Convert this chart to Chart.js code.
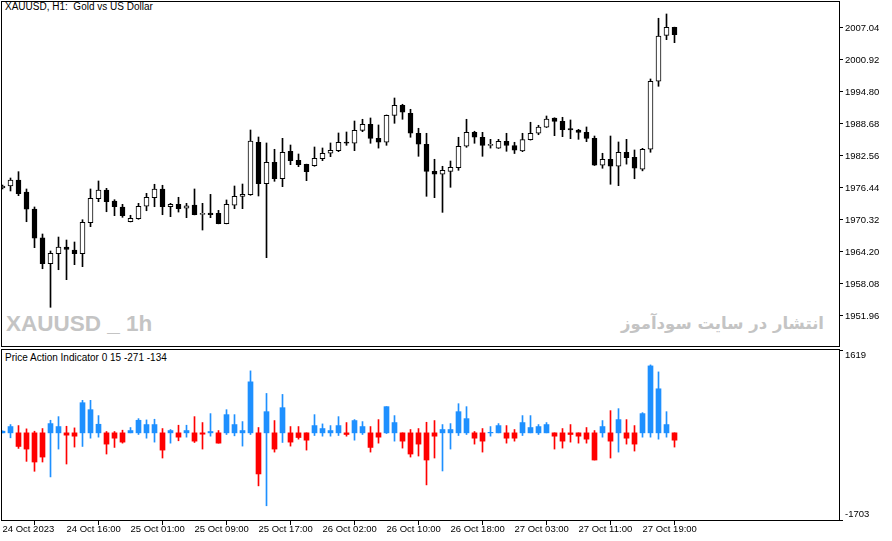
<!DOCTYPE html>
<html>
<head>
<meta charset="utf-8">
<title>XAUUSD H1</title>
<script src="https://cdn.jsdelivr.net/npm/chart.js@4.4.0/dist/chart.umd.min.js"></script>
<style>
  html, body { margin: 0; padding: 0; background: #fff; }
  #wrap { position: relative; width: 892px; height: 541px; overflow: hidden; }
  canvas { position: absolute; left: 0; z-index: 1; }
  .lbl { position: absolute; z-index: 0; white-space: nowrap; font-family: 'Liberation Sans', Arial, sans-serif; font-size: 10px; line-height: 12px; color: #000; }
  .mark { position: absolute; z-index: 0; white-space: nowrap; color: #c4c4c4; font-weight: bold; }
</style>
</head>
<body>
<div id="wrap">
  <div class="lbl" style="left:5px;top:1px">XAUUSD, H1:&nbsp; Gold vs US Dollar</div>
  <div class="mark" style="left:6px;top:310px;font-family:'Liberation Sans',Arial,sans-serif;font-size:22.5px;line-height:28px">XAUUSD _ 1h</div>
  <div class="mark" dir="rtl" style="left:560px;width:264px;top:310px;text-align:right;font-family:'DejaVu Sans',sans-serif;font-size:16.5px;line-height:28px">انتشار در سایت سودآموز</div>
  <div class="lbl" style="left:5px;top:352px">Price Action Indicator 0 15 -271 -134</div>
  <canvas id="main" width="892" height="348" style="top:0"></canvas>
  <canvas id="ind" width="892" height="193" style="top:348px"></canvas>
</div>
<script>
// #### Data (H1 bars, 24 Oct 08:00 -> 27 Oct 23:00)
const open = [
  1976.44, 1976.82, 1977.97, 1975.68, 1972.42, 1966.93, 1961.96, 1963.87, 1965.15, 1964.58,
  1963.87, 1969.80, 1974.39, 1976.06, 1973.95, 1972.81, 1969.99, 1970.57, 1972.94, 1974.59,
  1976.25, 1972.86, 1973.32, 1972.56, 1973.19, 1971.40, 1971.66, 1971.60, 1969.61, 1973.13,
  1974.85, 1975.16, 1985.18, 1977.26, 1981.35, 1978.22, 1983.46, 1981.74, 1980.96, 1980.71,
  1982.05, 1983.08, 1983.58, 1985.24, 1984.99, 1987.47, 1988.62, 1985.94, 1985.18, 1990.34,
  1992.26, 1990.73, 1986.90, 1984.80, 1979.63, 1979.06, 1979.63, 1980.32, 1984.42, 1987.09,
  1986.14, 1984.60, 1984.07, 1985.37, 1984.53, 1983.52, 1985.68, 1986.90, 1988.05, 1989.83,
  1989.19, 1987.78, 1987.53, 1987.09, 1985.94, 1980.78, 1981.93, 1980.59, 1983.27, 1982.31,
  1980.02, 1983.84, 1996.85, 2005.64, 2007.17
];
const high = [
  1977.01, 1978.35, 1979.56, 1976.25, 1972.81, 1967.64, 1964.39, 1967.06, 1966.49, 1966.11,
  1970.37, 1976.25, 1977.78, 1976.38, 1974.20, 1973.32, 1971.22, 1973.51, 1975.42, 1977.15,
  1976.96, 1973.51, 1974.66, 1973.51, 1976.25, 1973.51, 1975.22, 1972.16, 1974.15, 1976.82,
  1977.20, 1987.53, 1986.19, 1985.05, 1983.84, 1985.94, 1984.66, 1982.94, 1981.00, 1984.28,
  1984.09, 1985.05, 1986.96, 1987.15, 1989.25, 1989.58, 1989.83, 1988.49, 1990.40, 1993.65,
  1992.45, 1991.49, 1987.86, 1986.90, 1981.93, 1980.59, 1981.60, 1986.14, 1989.58, 1987.29,
  1987.09, 1985.75, 1985.75, 1986.90, 1985.18, 1986.90, 1989.01, 1988.43, 1990.21, 1989.87,
  1989.96, 1989.45, 1987.66, 1988.11, 1986.38, 1983.08, 1986.38, 1985.24, 1985.75, 1983.71,
  1984.03, 1997.29, 2008.90, 2009.72, 2007.20
];
const low = [
  1976.25, 1975.87, 1974.97, 1969.99, 1965.02, 1961.00, 1953.62, 1960.81, 1958.90, 1961.77,
  1961.39, 1969.04, 1973.82, 1971.90, 1971.14, 1970.83, 1969.95, 1970.45, 1972.09, 1972.86,
  1971.33, 1970.95, 1971.84, 1970.76, 1971.30, 1968.40, 1970.76, 1969.58, 1969.58, 1972.48,
  1972.48, 1975.04, 1974.91, 1963.11, 1977.72, 1976.69, 1980.90, 1980.52, 1977.84, 1980.59,
  1981.66, 1982.43, 1983.39, 1984.60, 1983.58, 1987.21, 1984.99, 1984.07, 1984.60, 1988.81,
  1989.58, 1986.14, 1982.50, 1974.85, 1974.59, 1971.78, 1976.57, 1979.82, 1984.22, 1984.99,
  1982.50, 1984.07, 1984.00, 1983.46, 1983.03, 1983.39, 1985.60, 1986.63, 1988.00, 1986.44,
  1986.25, 1985.87, 1985.75, 1985.30, 1980.74, 1980.21, 1977.15, 1976.88, 1981.00, 1978.21,
  1979.72, 1983.27, 1995.89, 2004.80, 2004.23
];
const close = [
  1976.82, 1977.97, 1975.35, 1972.37, 1966.82, 1961.96, 1963.95, 1965.15, 1964.71, 1963.87,
  1969.88, 1974.47, 1976.06, 1973.82, 1972.86, 1971.14, 1970.64, 1972.94, 1974.66, 1976.25,
  1972.86, 1973.32, 1972.48, 1973.05, 1971.33, 1971.42, 1971.33, 1969.61, 1973.32, 1974.85,
  1975.23, 1985.43, 1977.26, 1981.35, 1978.22, 1983.27, 1981.66, 1980.90, 1979.56, 1982.12,
  1983.08, 1983.65, 1985.18, 1984.99, 1987.47, 1988.62, 1985.94, 1985.18, 1990.34, 1992.26,
  1990.92, 1986.90, 1984.80, 1979.63, 1979.06, 1979.82, 1980.40, 1984.42, 1987.09, 1986.14,
  1984.60, 1984.62, 1985.37, 1984.56, 1983.65, 1985.68, 1986.90, 1988.11, 1989.64, 1989.19,
  1987.59, 1987.53, 1987.09, 1985.94, 1980.78, 1981.93, 1980.59, 1983.27, 1982.24, 1980.21,
  1983.84, 1996.85, 2005.51, 2007.17, 2005.76
];

// Price Action Indicator: body value, high and low of each bar
const piValue = [
    32,  123, -266, -317, -570, -473,  181,  123,  -45,  -65,
   589,  453,  168, -220, -104, -181,   45,  246,  162,  162,
  -337,   45,  -84,   45, -162,  -26,   26, -201,  356,  162,
    45,  997, -803,  414, -317,  492, -181,  -91, -143,  142,
    84,   45,  142,  -32,  240,  123, -285,  -84,  512,  201,
  -162, -414, -220, -531,  -65,   65,   65,  414,  278, -104,
  -162,   10,  142, -104, -104,  201,  104,  123,  162,  -65,
  -162,  -32,  -65, -123, -531,  123, -162,  259, -104, -220,
   376, 1308,  861,  162, -143
];
const piHigh = [
    40,  162,  142,   78,   32,   84,  246,  317,  129,   97,
   635,  635,  337,   26,   26,   52,  104,  278,  253,  266,
    84,   65,  149,  149,  317,  201,  376,   45,  453,  356,
   220, 1211,  104,  770,  240,  751,  123,  123,    0,  356,
   175,  142,  317,  201,  259,  220,  123,  259,  512,  337,
     0,   65,   84,  207,  240,  162,  181,  570,  512,   26,
    84,  123,  181,  142,   65,  337,  337,  162,  201,    0,
    84,  162,    0,  104,   45,  240,  434,  473,  259,  142,
   395, 1328, 1191,  414,    0
];
const piLow = [
     0,  -97, -304, -557, -751, -570, -861, -317, -609, -278,
  -266, -104,  -84, -414, -285, -201,    0,  -32, -104, -181,
  -492, -201, -155,  -84, -188, -317,  -65, -201,  -32,  -58,
  -259,  -32,-1036,-1425, -376, -188, -259, -123, -337,  -52,
   -65,  -65,  -52,  -65, -143,  -32, -376, -201,  -13, -162,
  -298, -473, -453,-1017, -492, -745, -317,  -52,  -32, -220,
  -376,  -65,    0, -201, -162,  -52,    0,  -32,    0, -317,
  -298, -181, -201, -201, -531,  -84, -492, -376, -220, -356,
   -84,  -84, -123,  -84, -278
];

const priceTicks = [2007.04, 2000.92, 1994.80, 1988.68, 1982.56, 1976.44, 1970.32, 1964.20, 1958.08, 1951.96];
const indicatorTicks = [1619, -1703];
const timeTicks = ['24 Oct 2023', '24 Oct 16:00', '25 Oct 01:00', '25 Oct 09:00', '25 Oct 17:00',
  '26 Oct 02:00', '26 Oct 10:00', '26 Oct 18:00', '27 Oct 03:00', '27 Oct 11:00', '27 Oct 19:00'];

// #### Setup
const BAR_PX = 8;
const X_MIN = -0.0625;
const X_MAX = X_MIN + 837 / BAR_PX;
const bars = open.map((_, i) => i);

Chart.defaults.font.family = "'Liberation Sans', Arial, sans-serif";
Chart.defaults.font.size = 9.5;
Chart.defaults.color = '#000';

// frame around each pane
const paneBorder = {
    id: 'paneBorder',
    afterDraw(chart) {
        const { ctx, chartArea: a } = chart;
        ctx.save();
        ctx.strokeStyle = '#000';
        ctx.lineWidth = 1;
        ctx.strokeRect(a.left - 0.5, a.top - 0.5, a.right - a.left + 1, a.bottom - a.top + 1);
        ctx.restore();
    }
};

// no extra room for labels hanging over the pane edges
function noOverhang(scale, size) {
    if (scale.isHorizontal()) scale.height = size;
    else scale.width = size;
    scale.paddingTop = 0;
    scale.paddingBottom = 0;
    scale.paddingLeft = 0;
    scale.paddingRight = 0;
}

function baseOptions() {
    return {
        responsive: false,
        animation: false,
        devicePixelRatio: 1,
        events: [],
        plugins: { legend: { display: false }, tooltip: { enabled: false } }
    };
}

// #### Price pane
new Chart(document.getElementById('main'), {
    type: 'bar',
    data: {
        datasets: [{
            label: 'wick',
            data: bars.map(i => ({ x: i, y: [low[i], high[i]] })),
            backgroundColor: '#000',
            barThickness: 1,
            grouped: false,
            order: 2
        }, {
            label: 'body',
            data: bars.map(i => ({ x: i, y: [Math.min(open[i], close[i]), Math.max(open[i], close[i])] })),
            backgroundColor: bars.map(i => close[i] >= open[i] ? '#fff' : '#000'),
            borderColor: '#000',
            borderWidth: 1,
            borderSkipped: false,
            barThickness: 5,
            minBarLength: 1,
            grouped: false,
            order: 1
        }]
    },
    options: Object.assign(baseOptions(), {
        layout: { padding: { left: 2, top: 2, right: 0, bottom: 2 } },
        scales: {
            x: { type: 'linear', offset: false, min: X_MIN, max: X_MAX, display: false },
            y: {
                position: 'right',
                min: 1946.22,
                max: 2012.01,
                afterFit: scale => noOverhang(scale, 53),
                afterBuildTicks: scale => { scale.ticks = priceTicks.map(v => ({ value: v })); },
                grid: { drawOnChartArea: false, drawTicks: true, tickLength: 4, color: '#000' },
                border: { display: false },
                ticks: { padding: 2, callback: v => v.toFixed(2) }
            }
        }
    }),
    plugins: [paneBorder]
});

// #### Indicator pane
new Chart(document.getElementById('ind'), {
    type: 'bar',
    data: {
        datasets: [{
            label: 'range',
            data: bars.map(i => ({ x: i, y: [piLow[i], piHigh[i]] })),
            backgroundColor: bars.map(i => piValue[i] >= 0 ? '#1E90FF' : '#FF0000'),
            barThickness: 1,
            grouped: false,
            order: 2
        }, {
            label: 'value',
            data: bars.map(i => ({ x: i, y: [0, piValue[i]] })),
            backgroundColor: bars.map(i => piValue[i] >= 0 ? '#1E90FF' : '#FF0000'),
            barThickness: 5,
            grouped: false,
            order: 1
        }]
    },
    options: Object.assign(baseOptions(), {
        layout: { padding: { left: 2, top: 2, right: 0, bottom: 0 } },
        scales: {
            x: {
                type: 'linear',
                offset: false,
                min: X_MIN,
                max: X_MAX,
                afterFit: scale => noOverhang(scale, 21),
                afterBuildTicks: scale => { scale.ticks = timeTicks.map((_, j) => ({ value: j * 8 })); },
                grid: { drawOnChartArea: false, drawTicks: true, tickLength: 5, color: '#000' },
                border: { display: false },
                ticks: {
                    align: 'start',
                    maxRotation: 0,
                    autoSkip: false,
                    padding: -1,
                    callback: v => timeTicks[Math.round(v / 8)]
                }
            },
            y: {
                position: 'right',
                min: -1703,
                max: 1619,
                afterFit: scale => noOverhang(scale, 53),
                afterBuildTicks: scale => { scale.ticks = indicatorTicks.map(v => ({ value: v })); },
                grid: { drawOnChartArea: false, drawTicks: true, tickLength: 4, color: '#000' },
                border: { display: false },
                ticks: {
                    padding: 2,
                    // top label sits under its tick, bottom one above it
                    callback: v => v > 0 ? ['', String(v)] : [String(v), '']
                }
            }
        }
    }),
    plugins: [paneBorder]
});
</script>
</body>
</html>
